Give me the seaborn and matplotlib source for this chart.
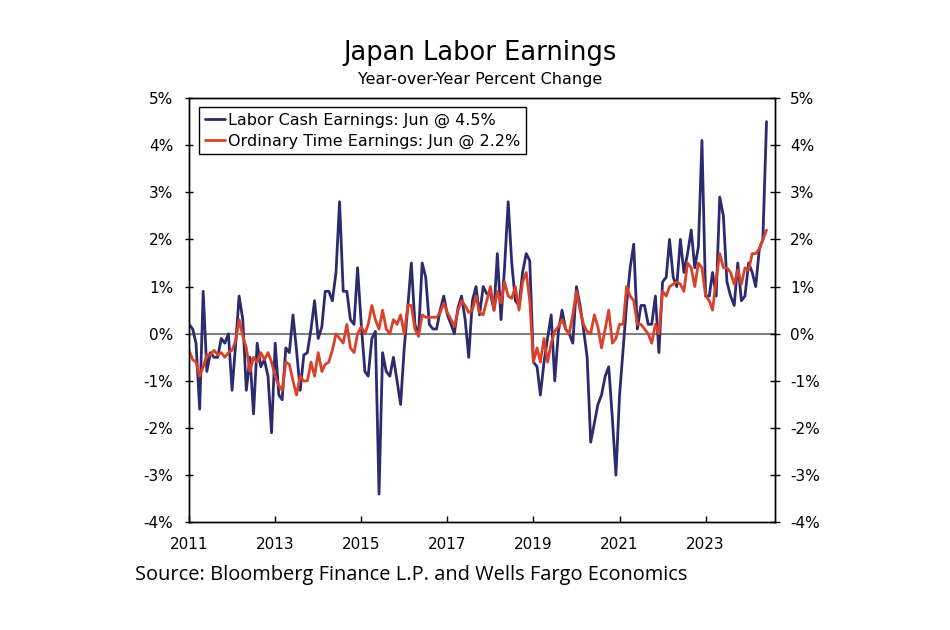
import pandas as pd
import numpy as np
import matplotlib.pyplot as plt
import matplotlib.ticker as ticker
import seaborn as sns

# monthly YoY % change, Jan 2011 .. Jun 2024
labor_cash = [
    0.2, 0.1, -0.2, -1.6, 0.9, -0.8, -0.4, -0.5, -0.5, -0.1, -0.2, 0.0,       # 2011
    -1.2, -0.2, 0.8, 0.3, -1.2, -0.5, -1.7, -0.2, -0.7, -0.55, -0.9, -2.1,    # 2012
    -0.2, -1.3, -1.4, -0.3, -0.4, 0.4, -0.35, -1.2, -0.45, -0.4, 0.1, 0.7,    # 2013
    -0.1, 0.15, 0.9, 0.9, 0.7, 1.3, 2.8, 0.9, 0.9, 0.3, 0.2, 1.4,             # 2014
    0.2, -0.8, -0.9, -0.1, 0.05, -3.4, -0.4, -0.8, -0.9, -0.5, -1.0, -1.5,    # 2015
    -0.3, 0.6, 1.5, 0.2, -0.05, 1.5, 1.2, 0.2, 0.1, 0.1, 0.5, 0.8,            # 2016
    0.4, 0.2, 0.0, 0.55, 0.8, 0.3, -0.5, 0.7, 1.0, 0.4, 1.0, 0.85,            # 2017
    0.85, 0.5, 1.7, 0.3, 1.4, 2.8, 1.5, 0.7, 0.6, 1.3, 1.7, 1.55,             # 2018
    -0.6, -0.7, -1.3, -0.6, -0.1, 0.4, -1.0, 0.05, 0.5, 0.1, 0.0, -0.2,       # 2019
    1.0, 0.6, 0.1, -0.5, -2.3, -1.9, -1.5, -1.3, -0.9, -0.7, -1.8, -3.0,      # 2020
    -1.3, -0.3, 0.6, 1.4, 1.9, 0.1, 0.6, 0.6, 0.2, 0.2, 0.8, -0.4,            # 2021
    1.1, 1.2, 2.0, 1.2, 1.0, 2.0, 1.3, 1.7, 2.2, 1.4, 1.85, 4.1,              # 2022
    0.8, 0.8, 1.3, 0.8, 2.9, 2.5, 1.1, 0.8, 0.6, 1.5, 0.7, 0.8,               # 2023
    1.5, 1.3, 1.0, 1.8, 2.0, 4.5,                                             # 2024
]
ordinary_time = [
    -0.35, -0.55, -0.6, -0.9, -0.7, -0.45, -0.45, -0.35, -0.45, -0.4, -0.5, -0.4,  # 2011
    -0.35, -0.15, 0.3, -0.05, -0.3, -0.8, -0.5, -0.6, -0.4, -0.55, -0.4, -0.6, # 2012
    -0.9, -1.1, -1.2, -0.6, -0.65, -1.0, -1.3, -0.9, -1.0, -1.0, -0.6, -0.9,  # 2013
    -0.4, -0.8, -0.65, -0.6, -0.35, 0.0, -0.1, -0.2, 0.2, -0.3, -0.4, 0.0,    # 2014
    0.15, 0.0, 0.2, 0.6, 0.3, 0.1, 0.5, 0.1, 0.0, 0.3, 0.2, 0.4,              # 2015
    0.0, 0.6, 0.6, 0.1, -0.05, 0.4, 0.35, 0.35, 0.35, 0.35, 0.45, 0.65,       # 2016
    0.45, 0.3, 0.15, 0.5, 0.7, 0.6, 0.45, 0.5, 0.8, 0.45, 0.4, 0.7,           # 2017
    1.0, 0.5, 0.9, 0.65, 1.1, 0.8, 0.75, 1.0, 0.5, 1.1, 1.3, 0.7,             # 2018
    -0.6, -0.3, -0.6, -0.1, -0.6, -0.2, 0.05, 0.15, 0.3, 0.1, 0.0, 0.4,       # 2019
    0.9, 0.5, 0.2, 0.05, 0.0, 0.4, 0.15, -0.3, 0.1, 0.5, -0.2, -0.1,          # 2020
    0.2, 0.2, 1.0, 0.8, 0.7, 0.2, 0.2, 0.1, 0.0, -0.2, 0.2, 0.0,              # 2021
    0.9, 0.8, 1.0, 1.05, 1.1, 1.05, 0.9, 1.5, 1.4, 1.0, 1.5, 1.4,             # 2022
    0.8, 0.7, 0.5, 1.15, 1.7, 1.4, 1.4, 1.3, 1.05, 1.35, 1.05, 1.4,           # 2023
    1.35, 1.7, 1.7, 1.8, 2.0, 2.2,                                            # 2024
]
labels = ['Labor Cash Earnings: Jun @ 4.5%', 'Ordinary Time Earnings: Jun @ 2.2%']
y_ticks = [-4, -3, -2, -1, 0, 1, 2, 3, 4, 5]
x_years = [2011, 2013, 2015, 2017, 2019, 2021, 2023]

dates = pd.date_range('2011-01-01', periods=len(labor_cash), freq='MS')
df = pd.concat([
    pd.DataFrame({'date': dates, 'value': labor_cash, 'series': labels[0]}),
    pd.DataFrame({'date': dates, 'value': ordinary_time, 'series': labels[1]}),
])

sns.set_theme(style="ticks")
plt.rcParams['font.family'] = ['DejaVu Sans']
plt.rcParams['text.color'] = 'black'
plt.rcParams['xtick.color'] = 'black'
plt.rcParams['ytick.color'] = 'black'
palette = ['#2E2A6E', '#DA4129']

fig = plt.figure(figsize=(9.5, 6.3), dpi=100)
ax = fig.add_axes([0.199, 0.1709, 0.6168, 0.6735])

ax.axhline(0, color='#808080', lw=1.5, zorder=1)
sns.lineplot(data=df, x='date', y='value', hue='series', palette=palette,
             lw=2.0, ax=ax, zorder=3)

ax.set_xlim(pd.Timestamp('2011-01-01'), pd.Timestamp('2024-08-12'))
ax.set_ylim(-4, 5)
ax.set_xticks([pd.Timestamp(f'{y}-01-01') for y in x_years])
ax.set_xticklabels([str(y) for y in x_years], fontsize=11)
ax.set_yticks(y_ticks)
ax.yaxis.set_major_formatter(ticker.FuncFormatter(lambda v, p: f'{v:.0f}%'))
ax.tick_params(axis='y', labelsize=11, direction='inout', length=6, width=1, pad=8.5)
ax.tick_params(axis='x', direction='in', length=4, width=1, pad=10.5)
ax.set_xlabel('')
ax.set_ylabel('')
for s in ax.spines.values():
    s.set_color('black')
    s.set_linewidth(1)

ax2 = ax.twinx()
ax2.set_ylim(-4, 5)
ax2.set_yticks(y_ticks)
ax2.yaxis.set_major_formatter(ticker.FuncFormatter(lambda v, p: f'{v:.0f}%'))
ax2.tick_params(axis='y', labelsize=11, direction='inout', length=6.5, width=1, pad=7.5)
for s in ax2.spines.values():
    s.set_color('black')
    s.set_linewidth(1)

handles, _ = ax.get_legend_handles_labels()
leg = ax.legend(handles, labels, loc='upper left', bbox_to_anchor=(0.017, 0.979),
                fontsize=11.5, frameon=True, fancybox=False, handlelength=1.25,
                handletextpad=0.2, borderpad=0.35, labelspacing=0.35,
                borderaxespad=0)
leg.get_frame().set_edgecolor('black')
leg.get_frame().set_linewidth(1)
leg.get_frame().set_alpha(1)
for h in leg.get_lines():
    h.set_linewidth(2.0)

fig.text(0.505, 0.916, 'Japan Labor Earnings', ha='center', va='center', fontsize=18.5)
fig.text(0.505, 0.874, 'Year-over-Year Percent Change', ha='center', va='center', fontsize=11.5)
fig.text(0.142, 0.087, 'Source: Bloomberg Finance L.P. and Wells Fargo Economics',
         ha='left', va='center', fontsize=14.4, family=['Open Sans', 'DejaVu Sans'])

fig.savefig('out.png', dpi=100)
